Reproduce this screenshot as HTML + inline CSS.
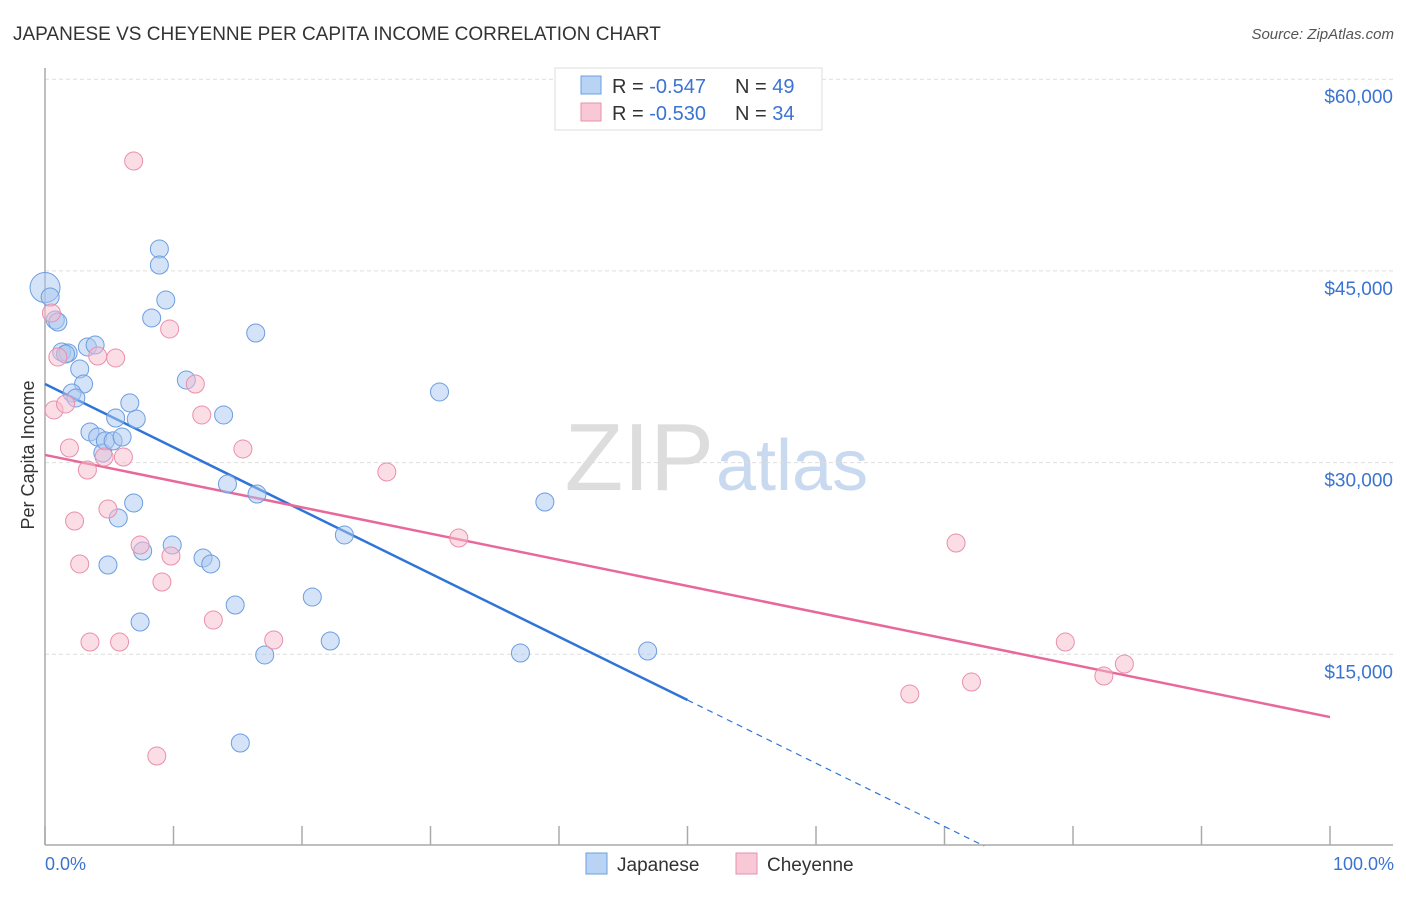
<!DOCTYPE html>
<html><head><meta charset="utf-8">
<style>
body{margin:0;background:#fff;font-family:"Liberation Sans",sans-serif;}
svg text{font-family:"Liberation Sans",sans-serif;}
</style></head>
<body>
<svg id="chart" width="1406" height="892" viewBox="0 0 1406 892" xmlns="http://www.w3.org/2000/svg">
<text x="13" y="40" font-size="19" fill="#333">JAPANESE VS CHEYENNE PER CAPITA INCOME CORRELATION CHART</text>
<text x="1394" y="39" font-size="15" fill="#555" font-style="italic" text-anchor="end">Source: ZipAtlas.com</text>
<text x="714" y="490" font-size="96" fill="#ddd" text-anchor="end" font-family="Liberation Serif">ZIP</text>
<text x="716" y="490" font-size="72" fill="#c9d9ef">atlas</text>
<g id="grid"></g>
<g id="axes"></g>
<g id="lines"></g>
<g id="pts"></g>
<text transform="translate(34,455) rotate(-90)" font-size="18" fill="#333" text-anchor="middle">Per Capita Income</text>
<text x="45" y="870" font-size="18" fill="#3b73d1">0.0%</text>
<text x="1394" y="870" font-size="18" fill="#3b73d1" text-anchor="end">100.0%</text>
<g>
<rect x="555" y="68" width="267" height="62" fill="#fff" stroke="#ddd"/>
<rect x="581" y="76" width="20" height="18" fill="#b9d3f5" stroke="#6d9de0"/>
<rect x="581" y="103" width="20" height="18" fill="#f9c8d7" stroke="#ea8fac"/>
<text x="612" y="93" font-size="20" fill="#333">R = <tspan fill="#3b73d1">-0.547</tspan></text>
<text x="735" y="93" font-size="20" fill="#333">N = <tspan fill="#3b73d1">49</tspan></text>
<text x="612" y="120" font-size="20" fill="#333">R = <tspan fill="#3b73d1">-0.530</tspan></text>
<text x="735" y="120" font-size="20" fill="#333">N = <tspan fill="#3b73d1">34</tspan></text>
</g>
<g>
<rect x="586" y="853" width="21" height="21" fill="#b9d3f5" stroke="#6d9de0"/>
<text x="617" y="871" font-size="19" fill="#333">Japanese</text>
<rect x="736" y="853" width="21" height="21" fill="#f9c8d7" stroke="#ea8fac"/>
<text x="767" y="871" font-size="19" fill="#333">Cheyenne</text>
</g>
</svg>
<script>
const yTicks=[15000,30000,45000,60000];
const yTickLabels=["$15,000","$30,000","$45,000","$60,000"];
const xTicks=[0,10,20,30,40,50,60,70,80,90,100];
const japX=[0,0.4,0.8,1.0,1.3,1.8,1.6,2.7,3.0,2.1,2.4,3.3,3.9,3.5,4.1,4.5,4.7,5.3,6.0,5.5,7.1,6.6,6.9,5.7,4.9,7.4,7.6,9.9,8.9,8.9,9.4,8.3,11.0,13.9,14.2,16.5,16.4,12.3,12.9,14.8,17.1,15.2,20.8,22.2,23.3,30.7,38.9,37.0,46.9];
const japY=[43700,42960,41160,41000,38660,38580,38500,37330,36150,35450,35060,39050,39200,32400,32000,30750,31700,31700,32000,33490,33410,34670,26840,25670,21990,17530,23080,23550,46720,45460,42720,41320,36460,33730,28330,27540,40140,22540,22070,18860,14950,8060,19480,16040,24340,35530,26920,15100,15260];
const cheX=[6.9,0.5,0.7,1.0,1.6,1.9,2.3,2.7,3.3,3.5,4.1,4.6,4.9,5.5,5.8,6.1,7.4,9.1,9.7,9.8,11.7,12.2,13.1,15.4,17.8,8.7,26.6,32.2,70.9,67.3,72.1,79.4,82.4,84.0];
const cheY=[53600,41710,34120,38260,34590,31140,25430,22070,29420,15960,38340,30440,26370,38190,15960,30440,23550,20660,40460,22690,36150,33730,17680,31070,16120,7040,29270,24100,23710,11890,12830,15960,13300,14240];
const japTrend=[36150,-494.6];
const cheTrend=[30600,-205.1];
const NS="http://www.w3.org/2000/svg";
const X=v=>45+v*12.85, Y=v=>846-v/78.25;
function mk(t,a,p){const e=document.createElementNS(NS,t);for(const k in a)e.setAttribute(k,a[k]);document.getElementById(p).appendChild(e);return e;}
yTicks.forEach((t,i)=>{
 const g=mk('line',{x1:45,x2:1393,y1:Y(t),y2:Y(t),stroke:'#ddd','stroke-dasharray':'4,3'},'grid');
 
 
 const l=mk('text',{x:1393,y:Y(t)+24,'font-size':19,fill:'#3b73d1','text-anchor':'end'},'grid');
 l.textContent=yTickLabels[i];
 
 
});
const ax=mk('line',{x1:45,x2:1393,y1:845,y2:845,stroke:'#aaa','stroke-width':1.5},'axes');


const ay=mk('line',{x1:45,x2:45,y1:68,y2:845,stroke:'#aaa','stroke-width':1.5},'axes');


xTicks.forEach(t=>{const e=mk('line',{x1:X(t),x2:X(t),y1:826,y2:845,stroke:'#aaa','stroke-width':1.5},'axes');
 
 });
function pts(xs,ys,fill,stroke,name){xs.forEach((x,i)=>{
 const r=(i===0&&name==='japanese-point')?15:9;
 const c=mk('circle',{cx:X(x),cy:Y(ys[i]),r:r,fill:fill,'fill-opacity':0.5,stroke:stroke,'stroke-width':1},'pts');
 
 });}
pts(japX,japY,'#a9c8f0','#6d9de0','japanese-point');
pts(cheX,cheY,'#f7bccd','#ea8fac','cheyenne-point');
const f=(tr,x)=>tr[0]+tr[1]*x;
const zx=-japTrend[0]/japTrend[1];
const l1=mk('line',{x1:X(0),y1:Y(f(japTrend,0)),x2:X(50),y2:Y(f(japTrend,50)),stroke:'#2f74d8','stroke-width':2.5},'lines');


const l2=mk('line',{x1:X(50),y1:Y(f(japTrend,50)),x2:X(zx),y2:Y(0),stroke:'#2f74d8','stroke-width':1.2,'stroke-dasharray':'6,5'},'lines');


const l3=mk('line',{x1:X(0),y1:Y(f(cheTrend,0)),x2:X(100),y2:Y(f(cheTrend,100)),stroke:'#e8689a','stroke-width':2.5},'lines');


</script>
</body></html>
